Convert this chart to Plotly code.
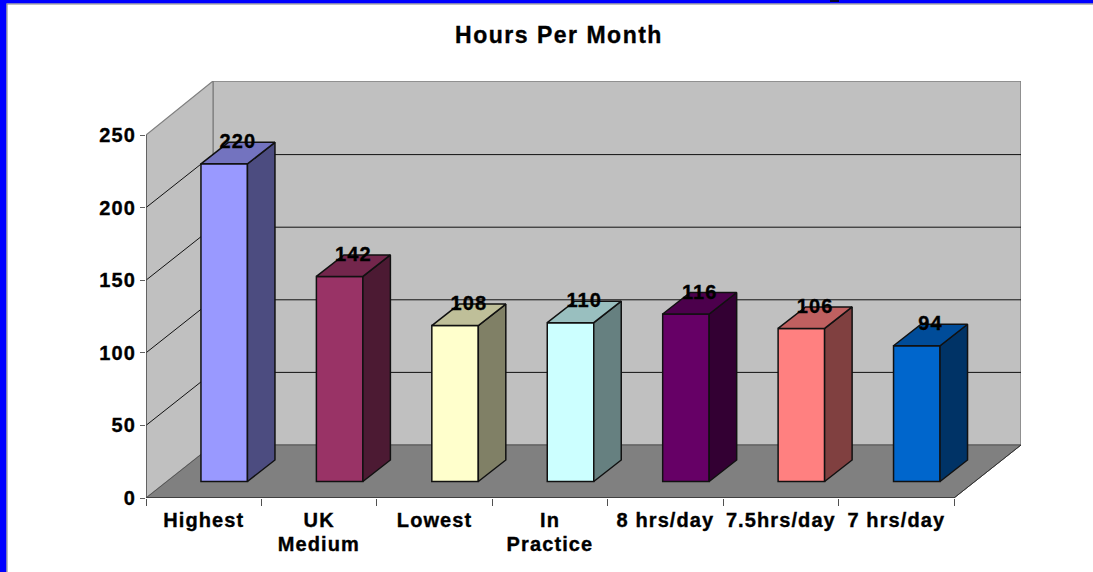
import plotly.graph_objects as go

# ---- data ----
CAT_LINE1 = ["Highest", "UK", "Lowest", "In", "8 hrs/day", "7.5hrs/day", "7 hrs/day"]
CAT_LINE2 = ["", "Medium", "", "Practice", "", "", ""]
VALUES = [220, 142, 108, 110, 116, 106, 94]
COLORS = ["#9999FF", "#993366", "#FFFFCC", "#CCFFFF", "#660066", "#FF8080", "#0066CC"]
Y_TICKS = [0, 50, 100, 150, 200, 250]
TITLE = "Hours Per Month"

# ---- projection / layout constants ----
W, H = 1093, 572
L, R, T, B = 146, 72, 81, 74
N = len(VALUES)
X_UNIT = (954 - 146) / N
Y_UNIT = 363 / 250
WALL_DX = 67 / X_UNIT          # depth shift of the back wall, in axis units
WALL_DY = 53 / Y_UNIT
BAR_W = 46.5 / X_UNIT
BAR_OX = 20.5 / X_UNIT         # bar front offset from the front plane
BAR_OY = 16.5 / Y_UNIT
BAR_DX = 27.5 / X_UNIT         # depth of a bar
BAR_DY = 21.5 / Y_UNIT
BAR_PLANE = 0.9945             # slight foreshortening of the plane the bars stand in
LABEL_DY = 0.7                 # data labels sit just under the bar's back edge
X0, X1 = -0.5, N - 0.5
YMAX = Y_TICKS[-1]
WALL_TOP = (498 - 81) / Y_UNIT
FONT = "Liberation Sans"
LABEL_SIZE = 20


def shade(hex_color, f):
    r, g, b = (int(hex_color[i:i + 2], 16) for i in (1, 3, 5))
    return f"rgb({round(r * f)},{round(g * f)},{round(b * f)})"


def px(x):
    return (x - L) / (W - L - R)


def py(y):
    return 1 - (y - T) / (H - T - B)


shapes = []


def poly(xs, ys, fill, color, width=1.0):
    path = "M" + " L".join(f"{a},{b}" for a, b in zip(xs, ys)) + " Z"
    shapes.append(dict(type="path", path=path, xref="x", yref="y", layer="below",
                       fillcolor=fill, line=dict(color=color, width=width)))


def seg(xs, ys, color, width=1.0):
    path = "M" + " L".join(f"{a},{b}" for a, b in zip(xs, ys))
    shapes.append(dict(type="path", path=path, xref="x", yref="y", layer="below",
                       line=dict(color=color, width=width)))


# walls and floor
poly([X0 + WALL_DX, X1 + WALL_DX, X1 + WALL_DX, X0 + WALL_DX],
     [WALL_DY, WALL_DY, WALL_TOP, WALL_TOP], "#C0C0C0", "#808080", 1.5)
poly([X0, X0 + WALL_DX, X0 + WALL_DX, X0],
     [0, WALL_DY, WALL_TOP, YMAX], "#C0C0C0", "#808080", 1.2)
poly([X0, X1, X1 + WALL_DX, X0 + WALL_DX],
     [0, 0, WALL_DY, WALL_DY], "#808080", "#555555", 1.0)
# gridlines across the left and back walls
for v in Y_TICKS[1:-1]:
    seg([X0, X0 + WALL_DX, X1 + WALL_DX], [v, v + WALL_DY, v + WALL_DY], "#111111", 1.0)
# axis lines
seg([X0, X0], [0, YMAX], "#505050", 1.5)
seg([X0, X1], [0, 0], "#333333", 1.5)
seg([X1, X1 + WALL_DX], [0, WALL_DY], "#333333", 1.0)

# blue frame of the page
frame = [(0, 0, W, 3.5), (0, 0, 6.5, H)]
for x0, y0, x1, y1 in frame:
    shapes.append(dict(type="rect", xref="paper", yref="paper", layer="above",
                       x0=px(x0), x1=px(x1), y0=py(y0), y1=py(y1),
                       fillcolor="#0000FF", line=dict(width=0)))
shapes.append(dict(type="line", xref="paper", yref="paper", layer="above",
                   x0=px(6.5), x1=px(W), y0=py(4), y1=py(4), line=dict(color="#808080", width=1)))
shapes.append(dict(type="line", xref="paper", yref="paper", layer="above",
                   x0=px(7), x1=px(7), y0=py(4), y1=py(H), line=dict(color="#808080", width=1)))
# clipped descender of the cut-off heading above the chart
shapes.append(dict(type="rect", xref="paper", yref="paper", layer="above",
                   x0=px(830), x1=px(839), y0=py(0), y1=py(2),
                   fillcolor="#000033", line=dict(width=0)))

fig = go.Figure()
LINE = dict(color="#111111", width=1.5)
cx = [i + BAR_OX for i in range(N)]
tops = [v * BAR_PLANE + BAR_OY for v in VALUES]

# front faces
fig.add_trace(go.Bar(x=cx, y=[v * BAR_PLANE for v in VALUES], base=BAR_OY, width=BAR_W,
                     marker=dict(color=COLORS, line=LINE), showlegend=False, hoverinfo="skip"))
# side and top faces
for c, t, col in zip(cx, tops, COLORS):
    xr = c + BAR_W / 2
    xl = c - BAR_W / 2
    fig.add_trace(go.Scatter(x=[xr, xr + BAR_DX, xr + BAR_DX, xr, xr],
                             y=[BAR_OY, BAR_OY + BAR_DY, t + BAR_DY, t, BAR_OY],
                             mode="lines", fill="toself", fillcolor=shade(col, 0.5),
                             line=LINE, showlegend=False, hoverinfo="skip"))
    fig.add_trace(go.Scatter(x=[xl, xr, xr + BAR_DX, xl + BAR_DX, xl],
                             y=[t, t, t + BAR_DY, t + BAR_DY, t],
                             mode="lines", fill="toself", fillcolor=shade(col, 0.75),
                             line=LINE, showlegend=False, hoverinfo="skip"))
# data labels
fig.add_trace(go.Scatter(x=[c + BAR_DX / 2 for c in cx], y=[t + BAR_DY - LABEL_DY for t in tops],
                         mode="text", text=[str(v) for v in VALUES], textposition="middle center",
                         textfont=dict(family=FONT, size=LABEL_SIZE, color="#000000", weight="bold"),
                         showlegend=False, hoverinfo="skip", cliponaxis=False))

annotations = []
for i, t in enumerate(CAT_LINE2):
    if t:
        annotations.append(dict(x=i, y=py(544), xref="x", yref="paper", text=t, showarrow=False,
                                xanchor="center", yanchor="middle",
                                font=dict(family=FONT, size=LABEL_SIZE, color="#000000", weight="bold")))

fig.update_layout(
    width=W, height=H, margin=dict(l=L, r=R, t=T, b=B, pad=0, autoexpand=False),
    paper_bgcolor="#FFFFFF", plot_bgcolor="rgba(0,0,0,0)", showlegend=False, barmode="overlay",
    title=dict(text=TITLE, x=559 / W, y=1 - 35 / H, xanchor="center", yanchor="middle",
               xref="container", yref="container",
               font=dict(family=FONT, size=23, color="#000000", weight="bold")),
    shapes=shapes, annotations=annotations,
    xaxis=dict(range=[X0, X0 + (W - L - R) / X_UNIT], showgrid=False, zeroline=False, showline=False,
               tickmode="array", tickvals=list(range(N)), ticktext=CAT_LINE1,
               ticks="outside", ticklen=4, tickcolor="rgba(0,0,0,0)", tickangle=0,
               tickfont=dict(family=FONT, size=LABEL_SIZE, color="#000000", weight="bold"),
               minor=dict(tickmode="array", tickvals=[X0 + i for i in range(N + 1)],
                          ticks="outside", ticklen=7, tickcolor="#505050", tickwidth=1.2)),
    yaxis=dict(range=[0, WALL_TOP], showgrid=False, zeroline=False, showline=False,
               tickmode="array", tickvals=Y_TICKS, ticktext=[str(v) for v in Y_TICKS],
               ticks="outside", ticklen=5, tickcolor="#606060", tickwidth=1.2,
               tickfont=dict(family=FONT, size=LABEL_SIZE, color="#000000", weight="bold")),
)

SPACING_JS = """
document.body.style.margin='0';document.body.style.overflow='hidden';
document.querySelectorAll('.xtick text,.ytick text,.annotation-text,.textpoint text').forEach(function(e){e.style.letterSpacing='1.1px';e.style.stroke='#000';e.style.strokeWidth='0.35px';});
document.querySelectorAll('.gtitle').forEach(function(e){e.style.letterSpacing='1.5px';e.style.stroke='#000';e.style.strokeWidth='0.35px';});
"""
fig.write_html("out.html", config=dict(displayModeBar=False), post_script=SPACING_JS)
